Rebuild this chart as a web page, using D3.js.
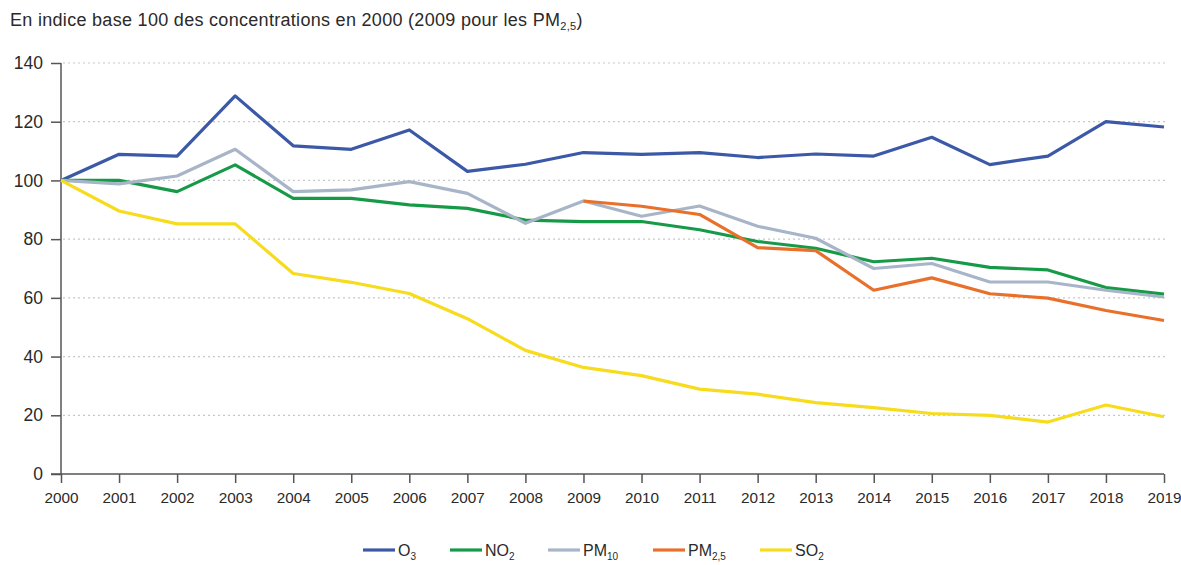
<!DOCTYPE html>
<html>
<head>
<meta charset="utf-8">
<script src="https://cdn.jsdelivr.net/npm/d3@7"></script>
<style>
  body { margin: 0; background: #fff; }
  text { font-family: "Liberation Sans", Arial, Helvetica, sans-serif; fill: #2a2a2a; }
</style>
</head>
<body>
<div id="chart-area"></div>
<script>
var years = d3.range(2000, 2020)
var o3   = [100, 108.9, 108.3, 128.8, 111.8, 110.6, 117.2, 103.1, 105.5, 109.5, 108.9, 109.5, 107.8, 109.0, 108.3, 114.7, 105.4, 108.3, 120.0, 118.2]
var no2  = [100, 100.0, 96.2, 105.3, 93.9, 93.9, 91.7, 90.5, 86.5, 86.0, 86.0, 83.2, 79.2, 76.9, 72.3, 73.5, 70.4, 69.5, 63.5, 61.3]
var pm10 = [100, 98.8, 101.5, 110.6, 96.2, 96.8, 99.6, 95.6, 85.4, 93.0, 87.8, 91.3, 84.4, 80.3, 70.0, 71.7, 65.4, 65.4, 62.6, 60.3]
var pm25 = [null, null, null, null, null, null, null, null, null, 93.0, 91.2, 88.4, 77.1, 76.1, 62.6, 66.8, 61.4, 59.9, 55.7, 52.3]
var so2  = [100, 89.6, 85.2, 85.2, 68.3, 65.3, 61.5, 52.9, 42.1, 36.3, 33.5, 28.9, 27.2, 24.3, 22.6, 20.6, 20.0, 17.7, 23.5, 19.5]
var yTicks = [0, 20, 40, 60, 80, 100, 120, 140]

var seriesNames = [["O", "3"], ["NO", "2"], ["PM", "10"], ["PM", "2,5"], ["SO", "2"]]
var seriesColors = ["#3b59a6", "#179a48", "#a8b5c8", "#e8702a", "#f6dc1c"]
var seriesValues = [o3, no2, pm10, pm25, so2]

var canvasWidth = 1181
var canvasHeight = 565
var margin = {top: 63, bottom: 91, left: 61, right: 17}

var svg = d3.select("#chart-area")
  .append("svg")
  .attr("width", canvasWidth)
  .attr("height", canvasHeight)

var x = d3.scaleLinear()
  .domain([2000, 2019])
  .range([margin.left, canvasWidth - margin.right])

var y = d3.scaleLinear()
  .domain([0, 140])
  .range([canvasHeight - margin.bottom, margin.top])

// title
var title = svg.append("text")
  .attr("x", 10)
  .attr("y", 26)
  .attr("font-size", "18px")
  .attr("letter-spacing", "0.3px")
title.append("tspan").text("En indice base 100 des concentrations en 2000 (2009 pour les PM")
title.append("tspan").attr("font-size", "11px").attr("dy", 4).text("2,5")
title.append("tspan").attr("dy", -4).text(")")

// dotted grid
svg.append("g")
  .selectAll("line")
  .data(yTicks.filter(function(d){ return d > 0 }))
  .enter().append("line")
    .attr("x1", margin.left + 2)
    .attr("x2", x(2019) + 2)
    .attr("y1", function(d){ return y(d) })
    .attr("y2", function(d){ return y(d) })
    .attr("stroke", "#c8c8c8")
    .attr("stroke-width", 1.2)
    .attr("stroke-dasharray", "2,3")

// axes
var yAxis = svg.append("g")
  .attr("transform", "translate(" + margin.left + ",0)")
  .call(d3.axisLeft(y).tickValues(yTicks).tickSize(10).tickPadding(8))
var xAxis = svg.append("g")
  .attr("transform", "translate(0," + y(0) + ")")
  .call(d3.axisBottom(x).tickValues(years).tickFormat(d3.format("d")).tickSize(9).tickPadding(9))

yAxis.select(".domain").attr("stroke", "#555").attr("stroke-width", 1.5).attr("d", "M0," + y(0) + "V" + y(140))
xAxis.select(".domain").attr("stroke", "#555").attr("stroke-width", 1.5).attr("d", "M" + (margin.left - 10) + ",0H" + x(2019))
svg.selectAll(".tick line").attr("stroke", "#555").attr("stroke-width", 1.5)
yAxis.selectAll(".tick text").attr("font-size", "17.5px").attr("fill", "#2a2a2a")
  .style("font-family", "Liberation Sans, Arial, sans-serif")
xAxis.selectAll(".tick text").attr("font-size", "15.3px").attr("fill", "#2a2a2a")
  .style("font-family", "Liberation Sans, Arial, sans-serif")

// lines
var line = d3.line()
  .defined(function(d){ return d != null })
  .x(function(d, i){ return x(years[i]) })
  .y(function(d){ return y(d) })

svg.append("g")
  .selectAll("path")
  .data(seriesValues)
  .enter().append("path")
    .attr("d", line)
    .attr("fill", "none")
    .attr("stroke", function(d, i){ return seriesColors[i] })
    .attr("stroke-width", 3.2)
    .attr("stroke-linejoin", "round")

// legend
var legendX = [363, 450, 548, 653, 760]
var legendY = 550
var legend = svg.append("g")
  .selectAll("g")
  .data(seriesNames)
  .enter().append("g")
    .attr("transform", function(d, i){ return "translate(" + legendX[i] + "," + legendY + ")" })

legend.append("line")
  .attr("x1", 0).attr("x2", 32)
  .attr("stroke", function(d, i){ return seriesColors[i] })
  .attr("stroke-width", 3.2)

var lt = legend.append("text")
  .attr("x", 35)
  .attr("y", 6)
  .attr("font-size", "16px")
lt.append("tspan").text(function(d){ return d[0] })
lt.append("tspan").attr("font-size", "10px").attr("dy", 4).text(function(d){ return d[1] })
</script>
</body>
</html>
